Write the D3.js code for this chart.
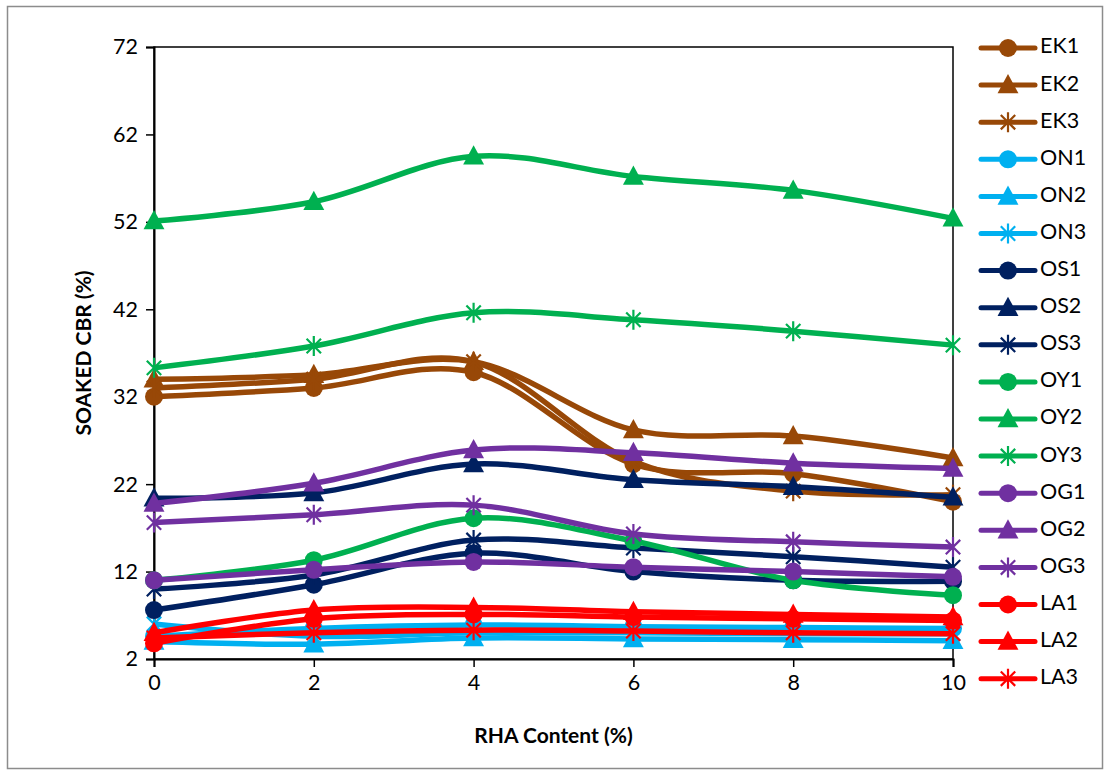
<!DOCTYPE html>
<html><head><meta charset="utf-8">
<script src="https://cdn.jsdelivr.net/npm/d3@7"></script>
<style>
body{margin:0;background:#fff;}
svg{display:block;font-family:Lato,"Liberation Sans",sans-serif;}
</style></head>
<body><svg id="c" width="1111" height="774"></svg>
<script>
const xValues = [0, 2, 4, 6, 8, 10];
const seriesNames = ["EK1","EK2","EK3","ON1","ON2","ON3","OS1","OS2","OS3","OY1","OY2","OY3","OG1","OG2","OG3","LA1","LA2","LA3"];
const EK1 = [32.0, 33.0, 34.8, 24.3, 23.2, 20.0];
const EK2 = [34.0, 34.5, 36.0, 28.2, 27.5, 25.0];
const EK3 = [33.0, 34.0, 36.0, 24.6, 21.2, 20.8];
const ON1 = [4.6, 5.5, 5.9, 5.7, 5.6, 5.5];
const ON2 = [4.0, 3.7, 4.4, 4.3, 4.2, 4.1];
const ON3 = [6.0, 4.6, 5.0, 5.0, 4.9, 4.9];
const OS1 = [7.6, 10.5, 14.1, 12.0, 11.0, 10.9];
const OS2 = [20.4, 21.0, 24.3, 22.5, 21.7, 20.5];
const OS3 = [10.0, 11.6, 15.6, 14.7, 13.7, 12.5];
const OY1 = [11.0, 13.3, 18.1, 15.5, 11.0, 9.3];
const OY2 = [52.1, 54.3, 59.5, 57.2, 55.6, 52.4];
const OY3 = [35.3, 37.8, 41.6, 40.8, 39.5, 37.9];
const OG1 = [11.0, 12.2, 13.1, 12.5, 12.0, 11.4];
const OG2 = [19.8, 22.1, 25.9, 25.6, 24.4, 23.8];
const OG3 = [17.6, 18.5, 19.6, 16.3, 15.4, 14.8];
const LA1 = [3.8, 6.6, 7.1, 6.8, 6.6, 6.4];
const LA2 = [5.0, 7.6, 7.9, 7.4, 7.1, 6.8];
const LA3 = [4.4, 5.0, 5.3, 5.2, 5.0, 4.9];
const seriesValues = [EK1,EK2,EK3,ON1,ON2,ON3,OS1,OS2,OS3,OY1,OY2,OY3,OG1,OG2,OG3,LA1,LA2,LA3];
const yTicks = [2, 12, 22, 32, 42, 52, 62, 72];
const xTicks = [0, 2, 4, 6, 8, 10];
const groupColors = ["#984807","#00B0F0","#002060","#00B050","#7030A0","#FF0000"];
const markerTypes = ["circle","triangle","star"];

const svg = d3.select("#c");
svg.append("rect").attr("x",7.5).attr("y",6.5).attr("width",1095).attr("height",762)
  .attr("fill","#fff").attr("stroke","#8c8c8c").attr("stroke-width",1.5);

const m = {l:154, r:953, t:47, b:659};
const x = d3.scaleLinear().domain([0,10]).range([m.l, m.r]);
const y = d3.scaleLinear().domain([2,72]).range([m.b, m.t]);

svg.append("rect").attr("x",m.l).attr("y",m.t).attr("width",m.r-m.l).attr("height",m.b-m.t)
  .attr("fill","none").attr("stroke","#000").attr("stroke-width",1.5);

const FONT = "Lato, 'Liberation Sans', sans-serif";
const yAxis = svg.append("g").attr("transform",`translate(${m.l},0)`)
  .call(d3.axisLeft(y).tickValues(yTicks).tickSize(8).tickPadding(8).tickFormat(d3.format("d")));
const xAxis = svg.append("g").attr("transform",`translate(0,${m.b})`)
  .call(d3.axisBottom(x).tickValues(xTicks).tickSize(8).tickPadding(8).tickFormat(d3.format("d")));
[yAxis,xAxis].forEach(a=>{
  a.select(".domain").attr("stroke","#000").attr("stroke-width",2);
  a.selectAll(".tick line").attr("stroke","#000").attr("stroke-width",1.5);
  a.selectAll(".tick text").attr("fill","#000").style("font-size","21.5px").style("font-family",FONT);
});

svg.append("text").attr("transform",`translate(86,${(m.t+m.b)/2}) rotate(-90)`)
  .attr("text-anchor","middle").attr("dominant-baseline","middle")
  .style("font-size","21px").style("font-weight","bold").style("font-family",FONT).text("SOAKED CBR (%)");
svg.append("text").attr("x",(m.l+m.r)/2).attr("y",738)
  .attr("text-anchor","middle").attr("dominant-baseline","middle")
  .style("font-size","21px").style("font-weight","bold").style("font-family",FONT).text("RHA Content (%)");

function drawMarker(g, type, cx, cy, color){
  if(type==="circle"){
    g.append("circle").attr("cx",cx).attr("cy",cy).attr("r",9).attr("fill",color);
  } else if(type==="triangle"){
    const s = 11;
    g.append("path").attr("d",`M${cx},${cy-s} L${cx+s*0.95},${cy+s*0.75} L${cx-s*0.95},${cy+s*0.75} Z`).attr("fill",color);
  } else {
    const r = 10, d = r*0.72;
    const p = `M${cx},${cy-r} L${cx},${cy+r} M${cx-d},${cy-d} L${cx+d},${cy+d} M${cx-d},${cy+d} L${cx+d},${cy-d}`;
    g.append("path").attr("d",p).attr("stroke",color).attr("stroke-width",2.2).attr("fill","none");
  }
}

const line = d3.line().x(d=>x(d[0])).y(d=>y(d[1])).curve(d3.curveCardinal.tension(0));
const plot = svg.append("g");
seriesNames.forEach((name,i)=>{
  const color = groupColors[Math.floor(i/3)];
  const type = markerTypes[i%3];
  const vals = seriesValues[i];
  const pts = xValues.map((xv,j)=>[xv, vals[j]]);
  const g = plot.append("g");
  g.append("path").attr("d",line(pts)).attr("fill","none").attr("stroke",color).attr("stroke-width",5.5).attr("stroke-linejoin","round");
  pts.forEach(p=>drawMarker(g,type,x(p[0]),y(p[1]),color));
});

const leg = svg.append("g");
seriesNames.forEach((name,i)=>{
  const color = groupColors[Math.floor(i/3)];
  const type = markerTypes[i%3];
  const ly = 48 + i*37.1;
  const g = leg.append("g");
  g.append("line").attr("x1",981).attr("x2",1035).attr("y1",ly).attr("y2",ly).attr("stroke",color).attr("stroke-width",5).attr("stroke-linecap","round");
  drawMarker(g,type,1008,ly,color);
  g.append("text").attr("x",1040).attr("y",ly).attr("dominant-baseline","middle").style("font-size","21.5px").style("font-family",FONT).attr("fill","#000").text(name);
});
</script></body></html>
